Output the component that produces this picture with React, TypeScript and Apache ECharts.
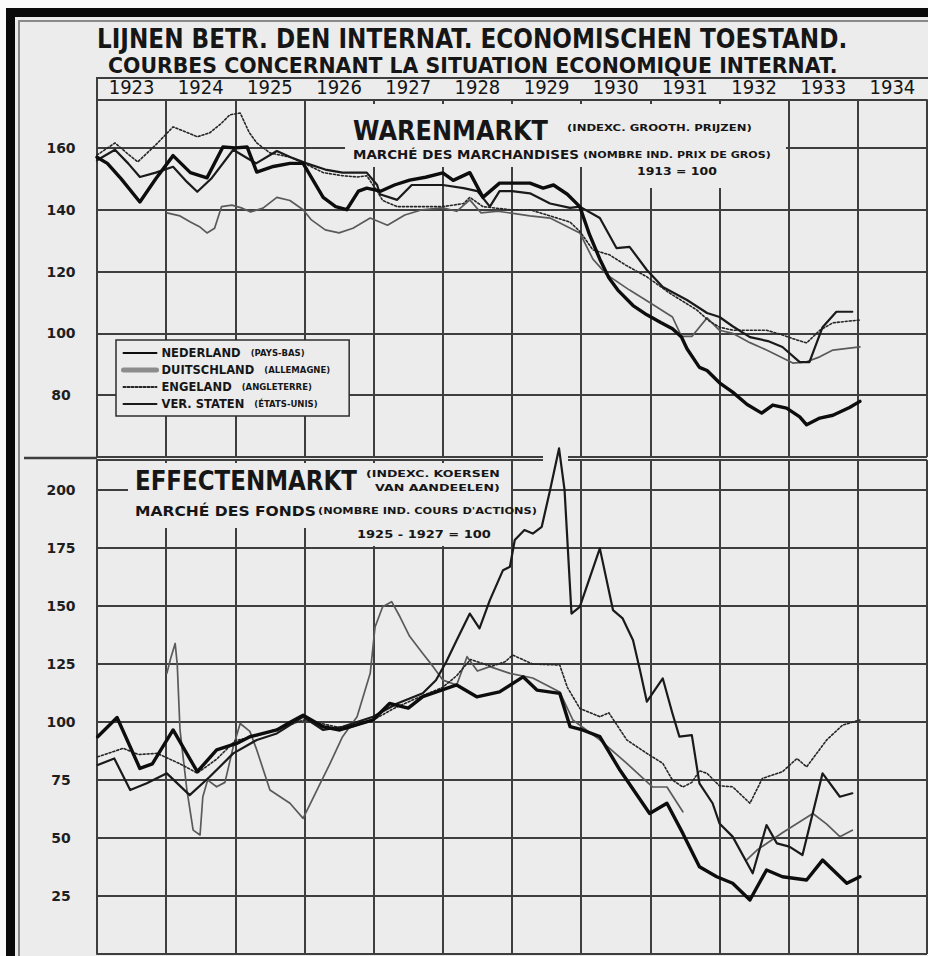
import React, { useEffect, useRef } from 'react';
import * as echarts from 'echarts';

// ---------- tick labels ----------
const YEARS = ['1923', '1924', '1925', '1926', '1927', '1928', '1929', '1930', '1931', '1932', '1933', '1934'];
const TOP_Y_TICKS = [80, 100, 120, 140, 160];
const BOTTOM_Y_TICKS = [25, 50, 75, 100, 125, 150, 175, 200];

// ---------- series names ----------
const NAMES = ['NEDERLAND', 'DUITSCHLAND', 'ENGELAND', 'VER. STATEN'];
const NAMES_FR = ['(PAYS-BAS)', '(ALLEMAGNE)', '(ANGLETERRE)', '(ÉTATS-UNIS)'];

// ---------- Warenmarkt (1913 = 100) : [year, index] ----------
const WM_NL = [[1923.00,157],[1923.15,155],[1923.35,150],[1923.62,142.5],[1923.85,150],[1924.10,157.5],[1924.35,152],[1924.59,150.3],[1924.82,160.3],[1925.00,160],[1925.17,160.3],[1925.31,152.2],[1925.55,154],[1925.79,155],[1925.98,155],[1926.27,144],[1926.45,141],[1926.61,140],[1926.78,146],[1926.90,147],[1927.10,146],[1927.30,148],[1927.52,149.6],[1927.75,150.5],[1928.00,151.9],[1928.15,149.5],[1928.39,152],[1928.58,144],[1928.82,148.6],[1929.00,148.6],[1929.26,148.6],[1929.45,147],[1929.60,148],[1929.80,145],[1929.98,141],[1930.12,132],[1930.27,124],[1930.40,118],[1930.53,114],[1930.75,109],[1930.95,106],[1931.15,103.5],[1931.32,101.5],[1931.45,98.8],[1931.53,95],[1931.71,89],[1931.82,88],[1932.00,84],[1932.19,81],[1932.40,77],[1932.61,74.2],[1932.77,76.8],[1932.97,75.8],[1933.16,73],[1933.26,70.4],[1933.45,72.6],[1933.64,73.5],[1933.88,76],[1934.03,78]];
const WM_DE = [[1924.01,139],[1924.20,138],[1924.35,136],[1924.49,134.4],[1924.59,132.5],[1924.70,134],[1924.80,141],[1924.95,141.5],[1925.10,140.5],[1925.22,139.3],[1925.40,140.5],[1925.60,144],[1925.79,143],[1925.98,140],[1926.10,136.7],[1926.30,133.5],[1926.50,132.5],[1926.70,134],[1926.95,137.3],[1927.20,135],[1927.45,138.3],[1927.70,140],[1928.00,140.6],[1928.20,139.5],[1928.39,143.2],[1928.55,139],[1928.80,139.5],[1929.26,138],[1929.55,137.3],[1929.98,132.5],[1930.17,124],[1930.37,119],[1930.70,114],[1930.99,110],[1931.32,105.3],[1931.45,99],[1931.60,99],[1931.82,105],[1932.00,101],[1932.19,100],[1932.44,97],[1932.68,94.6],[1933.06,90.4],[1933.26,90.8],[1933.45,92.4],[1933.64,94.6],[1934.03,95.6]];
const WM_UK = [[1923.00,157.7],[1923.26,161.6],[1923.45,158],[1923.59,155.5],[1923.85,161],[1924.10,166.8],[1924.30,165],[1924.45,163.6],[1924.63,164.9],[1924.80,168],[1924.92,170.7],[1925.07,171.3],[1925.20,165],[1925.31,161.6],[1925.50,158.4],[1925.79,157],[1926.00,155],[1926.27,152],[1926.55,151],[1926.76,150.6],[1926.90,151],[1927.05,146],[1927.13,143],[1927.34,141],[1927.71,141],[1928.00,141],[1928.30,142],[1928.39,144],[1928.58,141],[1928.97,140],[1929.26,140],[1929.55,138],[1929.84,136],[1929.98,133],[1930.17,127],[1930.41,125.4],[1930.65,122],[1930.95,118.3],[1931.28,113],[1931.67,107.6],[1931.85,104],[1932.00,102],[1932.20,101],[1932.44,101],[1932.68,101],[1932.91,99.5],[1933.10,98],[1933.26,96.9],[1933.45,101],[1933.64,103.4],[1933.88,104],[1934.03,104.3]];
const WM_US = [[1923.00,156],[1923.26,159.4],[1923.45,155],[1923.62,150.6],[1923.85,152],[1924.10,153.9],[1924.30,149],[1924.45,145.8],[1924.65,150],[1924.97,159.4],[1925.15,157],[1925.30,155],[1925.60,159],[1925.80,157],[1926.03,155],[1926.30,153],[1926.55,152],[1926.90,152],[1927.05,148],[1927.09,145],[1927.34,143.2],[1927.55,148],[1927.75,148],[1928.00,148],[1928.30,147],[1928.50,146],[1928.68,141],[1928.82,146],[1929.00,146],[1929.26,145.3],[1929.55,142],[1929.84,140.6],[1929.98,141],[1930.27,137.3],[1930.51,127.6],[1930.70,128],[1930.95,120.5],[1931.18,115],[1931.53,110.8],[1931.82,106.6],[1931.90,106],[1932.00,105.3],[1932.19,102.3],[1932.44,98.8],[1932.70,97.5],[1932.91,95.6],[1933.16,90.7],[1933.30,90.7],[1933.49,102],[1933.69,107],[1933.92,107]];

// ---------- Effectenmarkt (1925-1927 = 100) : [year, index] ----------
const EM_NL = [[1923.01,93.7],[1923.29,102],[1923.62,80],[1923.80,82],[1924.10,96.6],[1924.45,78.6],[1924.73,88],[1925.02,90.8],[1925.21,93.7],[1925.60,96.6],[1925.80,100],[1925.98,103],[1926.27,98],[1926.51,96.6],[1926.99,100.9],[1927.23,108],[1927.50,106],[1927.71,111],[1928.20,116],[1928.49,110.9],[1928.82,113],[1929.16,119.5],[1929.36,113.8],[1929.69,112.4],[1929.84,98],[1930.02,96.6],[1930.27,93.7],[1930.56,79.3],[1930.99,60.6],[1931.24,65],[1931.47,52],[1931.71,37.6],[1931.96,33.3],[1932.19,30.5],[1932.44,23.3],[1932.68,36.2],[1932.91,33.3],[1933.26,31.9],[1933.49,40.5],[1933.84,30.5],[1934.03,33.3]];
const EM_DE = [[1924.01,121],[1924.07,128],[1924.13,133.9],[1924.16,125],[1924.20,96.6],[1924.30,70.7],[1924.39,53.4],[1924.49,51.3],[1924.53,67.8],[1924.60,75],[1924.73,72.1],[1924.85,74],[1924.97,89.4],[1925.07,99.4],[1925.21,96],[1925.31,88],[1925.50,70.7],[1925.79,65],[1925.98,58.5],[1926.18,70.7],[1926.37,82.2],[1926.55,93.7],[1926.76,102.3],[1926.95,121],[1927.02,141],[1927.13,149.7],[1927.26,151.9],[1927.38,145.4],[1927.52,137],[1927.71,129.6],[1927.86,123.9],[1928.00,118.1],[1928.20,116],[1928.35,128.2],[1928.50,122],[1928.68,123.9],[1928.97,121],[1929.30,119],[1929.69,113],[1929.88,100.9],[1930.27,92.3],[1930.66,82.2],[1931.03,72.1],[1931.24,72],[1931.47,61.3],[1931.50,'-'],[1932.39,40.5],[1932.55,45],[1932.91,52.3],[1933.35,60.6],[1933.55,56],[1933.74,50.6],[1933.92,53.4]];
const EM_UK = [[1923.01,85],[1923.38,88.7],[1923.60,86],[1923.87,86.5],[1924.20,82],[1924.45,78],[1924.73,84],[1925.00,92],[1925.30,94],[1925.60,97],[1926.00,101],[1926.30,99],[1926.60,97],[1927.00,101],[1927.30,106],[1927.60,110],[1928.00,115],[1928.20,120],[1928.40,127],[1928.70,124],[1928.90,126],[1929.01,128.9],[1929.30,125],[1929.69,124.6],[1929.80,115],[1929.98,105.9],[1930.27,102.3],[1930.40,104],[1930.66,92.3],[1930.95,86.5],[1931.18,82.2],[1931.32,75],[1931.47,72],[1931.60,74],[1931.71,79],[1931.82,77.9],[1932.00,72.5],[1932.19,72.1],[1932.44,65],[1932.62,75.7],[1932.91,78.6],[1933.12,84.3],[1933.26,80.7],[1933.55,92.3],[1933.78,98.7],[1934.03,100.9]];
const EM_US = [[1923.01,81.5],[1923.25,84.3],[1923.48,70.7],[1923.72,73.6],[1924.01,77.9],[1924.34,68.5],[1924.63,76.4],[1924.97,86.5],[1925.31,92.3],[1925.60,95.1],[1925.98,102.3],[1926.27,96.6],[1926.55,98],[1926.99,102.3],[1927.34,108],[1927.71,112.4],[1927.90,118],[1928.05,126],[1928.20,135.3],[1928.39,146.8],[1928.53,140.4],[1928.68,152.6],[1928.87,165.5],[1928.97,167],[1929.04,178.5],[1929.18,182.8],[1929.30,181.3],[1929.43,184.2],[1929.55,200],[1929.68,218],[1929.76,200],[1929.86,146.8],[1929.98,149.7],[1930.27,174.9],[1930.46,148.3],[1930.60,144.7],[1930.75,135.3],[1930.85,122.4],[1930.95,108.8],[1931.18,118.8],[1931.32,103.7],[1931.42,93.7],[1931.60,94.4],[1931.71,73.6],[1931.90,65],[1932.00,56.3],[1932.19,50.6],[1932.48,34.8],[1932.68,55.6],[1932.83,47.7],[1933.01,46.3],[1933.20,42.7],[1933.49,77.9],[1933.74,67.8],[1933.92,69.3]];

const BG = '#ececec';
const INK = '#161616';
const GRID = '#3e3e3e';
const FONT = '"DejaVu Sans", "Noto Sans", sans-serif';
const NARROW = '"Liberation Sans Narrow", "DejaVu Sans Condensed", "Liberation Sans", sans-serif';

const STYLES: Record<string, any> = {
  'NEDERLAND': { color: '#0d0d0d', width: 3.4, type: 'solid' },
  'DUITSCHLAND': { color: '#5a5a5a', width: 1.7, type: 'solid' },
  'ENGELAND': { color: '#262626', width: 1.6, type: [2, 2] },
  'VER. STATEN': { color: '#1a1a1a', width: 2.2, type: 'solid' },
};

function fitScale(text: string, font: string, target: number): number {
  const ctx = document.createElement('canvas').getContext('2d');
  if (!ctx) return 1;
  ctx.font = font;
  const w = ctx.measureText(text).width;
  return w > 0 ? target / w : 1;
}

function label(text: string, left: number, cy: number, size: number, target: number, weight = 'bold') {
  const font = `${weight} ${size}px ${FONT}`;
  return {
    type: 'text', x: left, y: cy, scaleX: fitScale(text, font, target), z: 10, silent: true,
    style: { text, font, fill: INK, align: 'left', verticalAlign: 'middle', textAlign: 'left', textVerticalAlign: 'middle' },
  };
}

function gline(x1: number, y1: number, x2: number, y2: number, w = 2, color = GRID) {
  return { type: 'line', z: 1, silent: true, shape: { x1, y1, x2, y2 }, style: { stroke: color, lineWidth: w } };
}

function mask(x: number, y: number, w: number, h: number) {
  return { type: 'rect', z: 1, silent: true, shape: { x, y, width: w, height: h }, style: { fill: BG } };
}

function mkSeries(name: string, data: any[], panel: number, extra: any = {}) {
  const s = STYLES[name];
  return {
    type: 'line', name, data, xAxisIndex: panel, yAxisIndex: panel,
    symbol: 'none', showSymbol: false, silent: true, connectNulls: false,
    lineStyle: { color: s.color, width: s.width, type: s.type, cap: 'round', join: 'round' },
    itemStyle: { color: s.color },
    z: name === 'NEDERLAND' ? 4 : 3,
    ...extra,
  };
}

function valueX(gridIndex: number) {
  return {
    type: 'value', gridIndex, min: 1923, max: 1935, interval: 1,
    axisLine: { show: false }, axisTick: { show: false }, axisLabel: { show: false },
    splitLine: { show: true, lineStyle: { color: GRID, width: 2 } },
  };
}

function valueY(gridIndex: number, min: number, max: number, interval: number, ticks: number[]) {
  return {
    type: 'value', gridIndex, min, max, interval,
    axisLine: { show: true, lineStyle: { color: GRID, width: 2 } },
    axisTick: { show: false },
    splitLine: { show: true, lineStyle: { color: GRID, width: 2 } },
    axisLabel: {
      show: true, margin: 36, align: 'center', color: '#1e1e1e',
      fontFamily: FONT, fontWeight: 'bold', fontSize: 14,
      formatter: (v: number) => (ticks.indexOf(v) >= 0 ? String(v) : ''),
    },
  };
}

export default function App() {
  const ref = useRef<HTMLDivElement>(null);
  useEffect(() => {
    if (!ref.current) return;
    const chart = echarts.init(ref.current, null, { renderer: 'svg' });
    const noSymbol = { color: 'rgba(0,0,0,0)', borderColor: 'rgba(0,0,0,0)', borderWidth: 0 };
    const option: any = {
      animation: false,
      backgroundColor: BG,
      grid: [
        { left: 97, right: 1, top: 100, height: 357 },
        { left: 97, right: 1, top: 460, height: 494 },
      ],
      xAxis: [
        valueX(0),
        valueX(1),
        {
          type: 'category', gridIndex: 0, position: 'top', data: YEARS, boundaryGap: true,
          axisLine: { show: true, lineStyle: { color: GRID, width: 2 } },
          axisTick: { show: false }, splitLine: { show: false },
          axisLabel: { show: true, margin: 3, color: '#141414', fontSize: 20, fontFamily: NARROW },
        },
      ],
      yAxis: [
        valueY(0, 60, 175.5, 20, TOP_Y_TICKS),
        valueY(1, 0, 213, 25, BOTTOM_Y_TICKS),
      ],
      legend: {
        show: true, left: 116, top: 340, orient: 'vertical', selectedMode: false,
        itemWidth: 33, itemHeight: 10, itemGap: 5, padding: [7, 19, 6, 5],
        backgroundColor: BG, borderColor: '#2e2e2e', borderWidth: 1.5,
        itemStyle: noSymbol,
        data: NAMES.map((n) => (n === 'DUITSCHLAND'
          ? { name: n, itemStyle: noSymbol, lineStyle: { width: 5, color: '#8c8c8c', type: 'solid' } }
          : { name: n, itemStyle: noSymbol })),
        formatter: (name: string) => `{n|${name}}   {p|${NAMES_FR[NAMES.indexOf(name)]}}`,
        textStyle: {
          rich: {
            n: { fontFamily: FONT, fontWeight: 'bold', fontSize: 11.5, color: INK },
            p: { fontFamily: FONT, fontWeight: 'bold', fontSize: 8.5, color: INK },
          },
        },
      },
      series: [
        mkSeries('DUITSCHLAND', WM_DE, 0),
        mkSeries('ENGELAND', WM_UK, 0),
        mkSeries('VER. STATEN', WM_US, 0),
        mkSeries('NEDERLAND', WM_NL, 0),
        mkSeries('DUITSCHLAND', EM_DE, 1),
        mkSeries('ENGELAND', EM_UK, 1),
        mkSeries('VER. STATEN', EM_US, 1, { clip: false }),
        mkSeries('NEDERLAND', EM_NL, 1),
      ],
      graphic: [
        // outer frame
        { type: 'rect', z: 0, silent: true, shape: { x: 0, y: 0, width: 928, height: 8 }, style: { fill: '#fafafa' } },
        { type: 'rect', z: 0, silent: true, shape: { x: 0, y: 0, width: 6, height: 956 }, style: { fill: '#fafafa' } },
        { type: 'rect', z: 0, silent: true, shape: { x: 10.5, y: 12.5, width: 1000, height: 1000 }, style: { fill: 'none', stroke: '#0a0a0a', lineWidth: 9 } },
        { type: 'rect', z: 0, silent: true, shape: { x: 19, y: 21, width: 1000, height: 1000 }, style: { fill: 'none', stroke: '#8a8a8a', lineWidth: 2 } },
        // header row
        gline(97, 78, 928, 78),
        gline(97, 77, 97, 101),
        // panel separator extension
        gline(24, 458, 97, 458, 2.5),
        // masks behind the title blocks
        mask(345, 104, 441, 63),
        mask(625, 167, 161, 21),
        mask(128, 463, 383, 65),
        mask(345, 528, 166, 18),
        mask(543, 454, 25, 9),
        // titles
        label('LIJNEN BETR. DEN INTERNAT. ECONOMISCHEN TOESTAND.', 97, 39, 27, 751),
        label('COURBES CONCERNANT LA SITUATION ECONOMIQUE INTERNAT.', 108, 66, 21, 730),
        // Warenmarkt block
        label('WARENMARKT', 353, 130, 27, 195),
        label('(INDEXC. GROOTH. PRIJZEN)', 567, 128, 9, 185),
        label('MARCHÉ DES MARCHANDISES', 353, 155, 13, 226),
        label('(NOMBRE IND. PRIX DE GROS)', 583, 155, 8.5, 188),
        label('1913 = 100', 637, 172, 10, 80),
        // Effectenmarkt block
        label('EFFECTENMARKT', 135, 481, 27, 222),
        label('(INDEXC. KOERSEN', 366, 474, 9, 134),
        label('VAN AANDEELEN)', 375, 488, 9, 125),
        label('MARCHÉ DES FONDS', 135, 511, 13.5, 181),
        label("(NOMBRE IND. COURS D'ACTIONS)", 318, 510, 9, 219),
        label('1925 - 1927 = 100', 357, 535, 10, 134),
      ],
    };
    chart.setOption(option);
    return () => chart.dispose();
  }, []);
  return <div ref={ref} style={{ position: 'absolute', left: 0, top: 0, width: 928, height: 956 }} />;
}
